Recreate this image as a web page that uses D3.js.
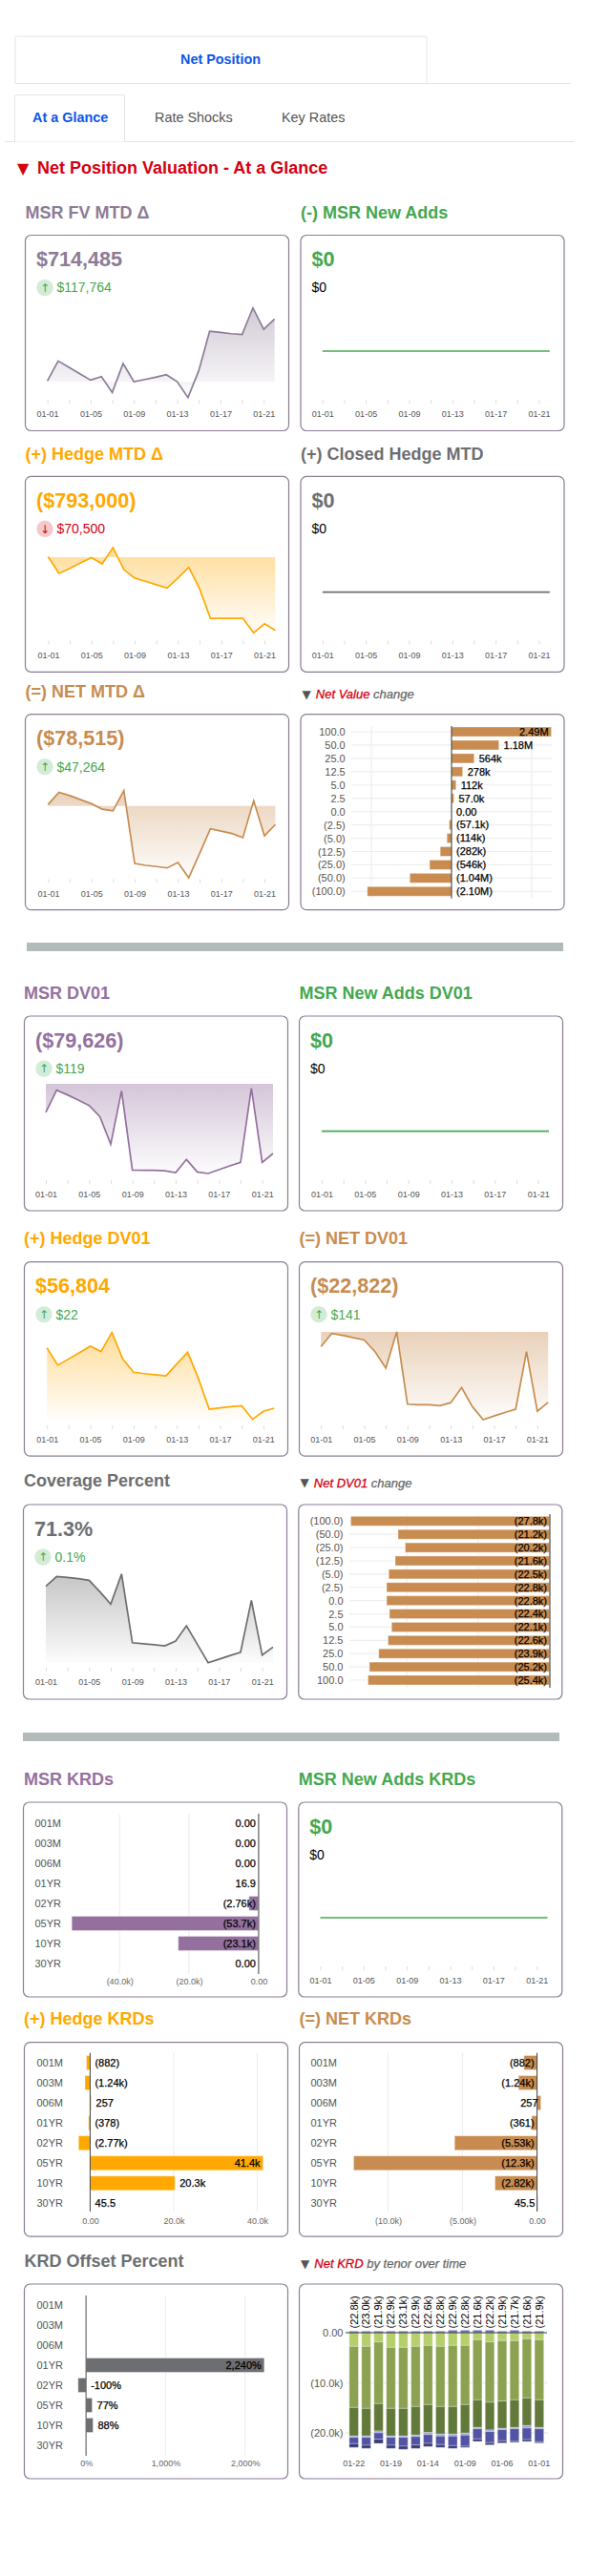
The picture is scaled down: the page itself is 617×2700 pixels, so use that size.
<!DOCTYPE html>
<html>
<head>
<meta charset="utf-8">
<script src="https://cdnjs.cloudflare.com/ajax/libs/d3/7.8.5/d3.min.js"></script>
<style>
body { margin: 0; background: #fff; }
svg { display: block; font-family: "Liberation Sans", Arial, sans-serif; }
</style>
</head>
<body>
<div id="chart"></div>
<script>
// sparkline dates, one point per day
const days = ['01-01','01-02','01-03','01-04','01-05','01-06','01-07','01-08','01-09','01-10','01-11','01-12','01-13','01-14','01-15','01-16','01-17','01-18','01-19','01-20','01-21','01-22'];

// sparkline values ($k, coverage in %)
const msrFvMtd = [7,236,163,91,18,58,-123,207,0,25,51,80,0,-181,127,576,562,547,537,841,596.7,714.5];
const hedgeMtd = [4,-177,-122,-63,-7,-74,103,-136,-228,-262,-299,-335,-228,-111,-343,-664,-664,-664,-664,-819,-722.5,-793];
const netMtd = [6,57,43,26,9,-14,-21,64,-241,-249,-254,-260,-237,-301,-200,-96,-106,-116,-133,21,-125.8,-78.5];
const msrDv01 = [-32.7,-7.3,-12.7,-18.5,-24.7,-37.5,-69.1,-8,-98.5,-98.9,-98.9,-99.3,-101.4,-86.5,-100.7,-102.5,-98.2,-93.8,-89.8,-5.1,-89.8,-79.6];
const hedgeDv01 = [87.7,78.8,82,85.2,88.5,85.8,95.5,82,75.2,74.5,73.9,73.4,79.4,85.4,72,56.3,57,57.6,58.1,51.1,55.2,56.8];
const netDv01 = [-4.8,-0.5,-1.1,-1.9,-2.6,-6.4,-11.7,0,-23.4,-23.6,-23.6,-23.9,-22.9,-18,-24.2,-28.4,-27.2,-26.1,-25,-6.4,-25.7,-22.8];
const coverage = [138.2,149,148,146.6,144.8,132.2,118.6,151.8,76.2,75.1,74,72.7,78,94.8,74.5,54.2,58,61.9,65.7,122.8,62.5,71.3];
const flatZero = [0,0,0,0,0,0,0,0,0,0,0,0,0,0,0,0,0,0,0,0,0,0];

// rate shock bars
const netValueShocks = ['100.0','50.0','25.0','12.5','5.0','2.5','0.0','(2.5)','(5.0)','(12.5)','(25.0)','(50.0)','(100.0)'];
const netValueChange = [2490,1180,564,278,112,57,0,-57.1,-114,-282,-546,-1040,-2100];
const netValueLabels = ['2.49M','1.18M','564k','278k','112k','57.0k','0.00','(57.1k)','(114k)','(282k)','(546k)','(1.04M)','(2.10M)'];
const netDv01Shocks = ['(100.0)','(50.0)','(25.0)','(12.5)','(5.0)','(2.5)','0.0','2.5','5.0','12.5','25.0','50.0','100.0'];
const netDv01Change = [-27.8,-21.2,-20.2,-21.6,-22.5,-22.8,-22.8,-22.4,-22.1,-22.6,-23.9,-25.2,-25.4];
const netDv01Labels = ['(27.8k)','(21.2k)','(20.2k)','(21.6k)','(22.5k)','(22.8k)','(22.8k)','(22.4k)','(22.1k)','(22.6k)','(23.9k)','(25.2k)','(25.4k)'];

// key rate bars
const tenors = ['001M','003M','006M','01YR','02YR','05YR','10YR','30YR'];
const msrKrd = [0,0,0,0.0169,-2.76,-53.7,-23.1,0];
const msrKrdLabels = ['0.00','0.00','0.00','16.9','(2.76k)','(53.7k)','(23.1k)','0.00'];
const hedgeKrd = [-0.882,-1.24,0.257,-0.378,-2.77,41.4,20.3,0.0455];
const hedgeKrdLabels = ['(882)','(1.24k)','257','(378)','(2.77k)','41.4k','20.3k','45.5'];
const netKrd = [-0.882,-1.24,0.257,-0.361,-5.53,-12.3,-2.82,0.0455];
const netKrdLabels = ['(882)','(1.24k)','257','(361)','(5.53k)','(12.3k)','(2.82k)','45.5'];
const krdOffset = [null,null,null,2240,-100,77,88,null];
const krdOffsetLabels = ['','','','2,240%','-100%','77%','88%',''];

// net KRD by tenor over time, newest first ($k)
const stackDates = ['01-22','01-21','01-20','01-19','01-16','01-15','01-14','01-13','01-12','01-09','01-08','01-07','01-06','01-05','01-02','01-01'];
const stackTotals = ['(22.8k)','(23.0k)','(21.9k)','(22.9k)','(23.1k)','(22.9k)','(22.6k)','(22.8k)','(22.9k)','(22.8k)','(21.6k)','(22.2k)','(21.9k)','(21.7k)','(21.6k)','(21.9k)'];
const stackPositive = [0.32,0.32,0.32,0.32,0.32,0.32,0.32,0.32,0.51,0.51,0.51,0.51,0.32,0.51,0.32,0.32];
const stack05yr = [-2.73,-2.73,-1.84,-2.92,-2.92,-2.73,-2.54,-2.73,-2.54,-2.54,-1.40,-1.84,-1.59,-1.59,-1.21,-1.40];
const stack10yr = [-12.19,-12.38,-12.32,-12.19,-12.19,-12.0,-11.81,-12.0,-12.19,-11.81,-12.0,-12.06,-12.06,-11.81,-11.81,-12.0];
const stack02yr = [-5.71,-5.52,-5.46,-5.52,-5.52,-5.71,-5.59,-5.52,-5.52,-5.71,-5.52,-5.52,-5.46,-5.52,-5.52,-5.52];
const stack01yr = [-0.25,-0.25,-0.38,-0.25,-0.25,-0.32,-0.38,-0.38,-0.38,-0.38,-0.25,-0.32,-0.25,-0.25,-0.51,-0.25];
const stack003m = [-1.27,-1.59,-1.27,-1.59,-1.78,-1.65,-1.78,-1.71,-1.90,-2.22,-2.03,-2.22,-2.22,-2.54,-2.29,-2.60];
const stack001m = [-0.76,-0.63,-0.83,-0.63,-0.63,-0.70,-0.63,-0.57,-0.57,-0.25,-0.51,-0.44,-0.44,-0.19,-0.38,-0.25];

const purple = '#94709e', purpleGrey = '#8d7b96', green = '#43a84f', orange = '#ffa800', tan = '#c88c50', grey = '#6d6e71';
const up = {fill: '#d3ecd8', color: '#43a84f', arrow: '↑'};
const down = {fill: '#f4c9cd', color: '#d40012', arrow: '↓'};

const svg = d3.select('#chart').append('svg').attr('width', 617).attr('height', 2700);
const defs = svg.append('defs');

function label(x, y, txt, size, color, weight, anchor)
{
    return svg.append('text')
        .attr('x', x)
        .attr('y', y)
        .attr('dy', '.35em')
        .attr('font-size', size)
        .attr('fill', color)
        .attr('font-weight', weight || 'normal')
        .attr('text-anchor', anchor || 'start')
        .text(txt);
}

function drawCard(c)
{
    svg.append('rect')
        .attr('x', c.x)
        .attr('y', c.y)
        .attr('width', c.w)
        .attr('height', c.h)
        .attr('rx', 6)
        .attr('fill', 'none')
        .attr('stroke', '#8b7d96')
        .attr('stroke-width', 1.2);
}

let gradientId = 0;

function sparkCard(c)
{
    drawCard(c);
    label(c.x + 11.5, c.y + 25, c.big, 21.6, c.color, 'bold');

    if (c.move) {
        svg.append('circle').attr('cx', c.x + 20.5).attr('cy', c.y + 55).attr('r', 8.7).attr('fill', c.move.fill);
        label(c.x + 20.5, c.y + 55, c.move.arrow, 12, c.move.color, 'normal', 'middle').attr('font-family', 'DejaVu Sans');
        label(c.x + 33, c.y + 55, c.sub, 14, c.move.color);
    } else {
        label(c.x + 11.5, c.y + 55, c.sub, 14, '#000');
    }

    const x = d3.scalePoint().domain(days).range([c.x0, c.x0 + 238]);
    const y = d3.scaleLinear()
        .domain([d3.min(c.values), Math.max(d3.max(c.values), 0)])
        .range([c.bot, c.top]);
    const base = y(Math.max(d3.min(c.values), 0));

    if (d3.max(c.values) !== d3.min(c.values)) {
        const id = 'fade' + (gradientId++);
        const grad = defs.append('linearGradient')
            .attr('id', id)
            .attr('gradientUnits', 'userSpaceOnUse')
            .attr('x1', 0).attr('x2', 0)
            .attr('y1', c.top).attr('y2', c.bot);
        grad.append('stop').attr('offset', 0).attr('stop-color', c.color).attr('stop-opacity', 0.4);
        grad.append('stop').attr('offset', 1).attr('stop-color', c.color).attr('stop-opacity', 0.02);

        svg.append('path')
            .datum(c.values)
            .attr('fill', `url(#${id})`)
            .attr('d', d3.area().x((d, i) => x(days[i])).y0(base).y1(d => y(d)));
    }

    svg.append('path')
        .datum(c.values)
        .attr('fill', 'none')
        .attr('stroke', c.color)
        .attr('stroke-width', 1.7)
        .attr('d', d3.line().x((d, i) => x(days[i])).y(d => y(d)));

    const axis = svg.append('g')
        .attr('transform', `translate(0, ${c.axisY})`)
        .call(d3.axisBottom(x)
            .tickValues(days.filter((d, i) => i % 2 === 0))
            .tickSize(4)
            .tickPadding(8)
            .tickFormat(d => days.indexOf(d) % 4 === 0 ? d : ''));
    axis.select('.domain').remove();
    axis.selectAll('line').attr('stroke', '#ddd');
    axis.selectAll('text').attr('font-size', 9).attr('font-family', 'Liberation Sans').attr('fill', '#555');
}

function barCard(c)
{
    drawCard(c);

    const x = d3.scaleLinear().domain(c.domain).range(c.range);
    const y = d3.scalePoint().domain(c.cats).range([c.first, c.last]);

    svg.selectAll(null)
        .data(c.gridVals)
        .join('line')
        .attr('x1', d => x(d))
        .attr('x2', d => x(d))
        .attr('y1', c.gridTop)
        .attr('y2', c.gridBot)
        .attr('stroke', '#eee')
        .attr('stroke-width', 1.2);

    if (c.rowLines) {
        svg.selectAll(null)
            .data(c.cats)
            .join('line')
            .attr('x1', c.range[0])
            .attr('x2', c.rowEnd)
            .attr('y1', d => y(d))
            .attr('y2', d => y(d))
            .attr('stroke', '#eee')
            .attr('stroke-width', 1.2);
    }

    const rows = c.values.map((v, i) => ({cat: c.cats[i], v: v, txt: c.labels[i]})).filter(d => d.v !== null);

    svg.selectAll(null)
        .data(rows)
        .join('rect')
        .attr('x', d => Math.min(x(d.v), x(0)))
        .attr('y', d => y(d.cat) - c.barH / 2)
        .attr('width', d => Math.abs(x(d.v) - x(0)))
        .attr('height', c.barH)
        .attr('fill', c.color)
        .attr('stroke', '#fff')
        .attr('stroke-opacity', 0.35)
        .attr('stroke-width', 1);

    svg.append('line')
        .attr('x1', x(0))
        .attr('x2', x(0))
        .attr('y1', c.gridTop)
        .attr('y2', c.gridBot)
        .attr('stroke', c.zeroColor)
        .attr('stroke-width', c.zeroWidth);

    // label sits past the bar, or inside it when it would run off the plot
    rows.forEach(d => {
        const end = Math.max(x(d.v), x(0));
        const t = label(end + 5, y(d.cat), d.txt, 11, '#000')
            .attr('stroke', '#000')
            .attr('stroke-width', 0.25);
        if (end + 5 + t.node().getComputedTextLength() > c.range[1]) {
            t.attr('x', end - 3).attr('text-anchor', 'end');
        }
    });

    const left = svg.append('g')
        .attr('transform', `translate(${c.catX}, 0)`)
        .call(d3.axisLeft(y).tickSize(0).tickPadding(0));
    left.select('.domain').remove();
    left.selectAll('text').attr('font-size', 11).attr('font-family', 'Liberation Sans').attr('fill', '#555');

    if (c.tickTexts) {
        const bottom = svg.append('g')
            .attr('transform', `translate(0, ${c.tickY})`)
            .call(d3.axisBottom(x).tickValues(c.gridVals).tickSize(0).tickPadding(0).tickFormat((d, i) => c.tickTexts[i]));
        bottom.select('.domain').remove();
        bottom.selectAll('text').attr('font-size', 9).attr('font-family', 'Liberation Sans').attr('fill', '#666');
    }
}

function stackCard(c)
{
    drawCard(c);

    const seriesNames = ['pos', '05yr', '10yr', '02yr', '01yr', '003m', '001m'];
    const seriesValues = [stackPositive, stack05yr, stack10yr, stack02yr, stack01yr, stack003m, stack001m];
    const seriesColors = ['#6b6ecf', '#b5cf6b', '#8ca252', '#637939', '#9c9ede', '#5254a3', '#393b79'];
    const table = stackDates.map((d, i) => {
        const row = {date: d};
        seriesNames.forEach((s, j) => { row[s] = seriesValues[j][i]; });
        return row;
    });
    const stacked = d3.stack().keys(seriesNames).offset(d3.stackOffsetDiverging)(table);

    const x = d3.scaleBand().domain(stackDates).range([362.5, 573]).padding(0.26);
    const y = d3.scaleLinear().domain([0, -20]).range([2445, 2550]);

    svg.selectAll(null)
        .data([-10, -20])
        .join('line')
        .attr('x1', 362)
        .attr('x2', 574)
        .attr('y1', d => y(d))
        .attr('y2', d => y(d))
        .attr('stroke', '#eee')
        .attr('stroke-width', 1.5);

    stacked.forEach((s, j) => {
        svg.selectAll(null)
            .data(s)
            .join('rect')
            .attr('x', d => x(d.data.date))
            .attr('y', d => Math.min(y(d[0]), y(d[1])))
            .attr('width', x.bandwidth())
            .attr('height', d => Math.abs(y(d[0]) - y(d[1])))
            .attr('fill', seriesColors[j])
            .attr('stroke', '#fff')
            .attr('stroke-opacity', 0.3)
            .attr('stroke-width', 1);
    });

    svg.append('line')
        .attr('x1', 362)
        .attr('x2', 573)
        .attr('y1', y(0))
        .attr('y2', y(0))
        .attr('stroke', '#333')
        .attr('stroke-width', 1);

    const left = svg.append('g')
        .attr('transform', 'translate(359.5, 0)')
        .call(d3.axisLeft(y).tickValues([0, -10, -20]).tickSize(0).tickPadding(0).tickFormat((d, i) => ['0.00', '(10.0k)', '(20.0k)'][i]));
    left.select('.domain').remove();
    left.selectAll('text').attr('font-size', 11).attr('font-family', 'Liberation Sans').attr('fill', '#555');

    const bottom = svg.append('g')
        .attr('transform', 'translate(0, 2578.5)')
        .call(d3.axisBottom(x).tickValues(stackDates.filter((d, i) => i % 3 === 0)).tickSize(0).tickPadding(0));
    bottom.select('.domain').remove();
    bottom.selectAll('text').attr('font-size', 9).attr('font-family', 'Liberation Sans').attr('fill', '#555');

    svg.selectAll(null)
        .data(stackTotals)
        .join('text')
        .attr('transform', (d, i) => `translate(${x(stackDates[i]) + x.bandwidth() / 2}, 2440.5) rotate(-90)`)
        .attr('dy', '.35em')
        .attr('font-size', 11)
        .attr('fill', '#000')
        .text(d => d);
}

function tealDivider(x, y, w)
{
    svg.append('rect').attr('x', x).attr('y', y).attr('width', w).attr('height', 9).attr('fill', '#b2bbb9');
}

function smallHead(x, y, red, rest)
{
    label(x, y, '▼', 12, '#555').attr('font-family', 'DejaVu Sans');
    const t = label(x + 14.3, y, '', 13, '#d40012').attr('font-style', 'italic');
    t.append('tspan').attr('fill', '#d40012').attr('stroke', '#d40012').attr('stroke-width', 0.3).text(red);
    t.append('tspan').attr('fill', '#666').attr('stroke', '#666').attr('stroke-width', 0.25).text(' ' + rest);
}

// tabs along the top
const tabPath = 'M16 88 V40 Q16 38 18 38 H445 Q447 38 447 40 V88';
svg.append('path').attr('d', tabPath).attr('fill', 'none').attr('stroke', '#e2e4e8').attr('stroke-width', 1);
svg.append('line').attr('x1', 16).attr('x2', 598).attr('y1', 87.5).attr('y2', 87.5).attr('stroke', '#e2e4e8');
label(231, 62, 'Net Position', 14.4, '#0d56e8', 'bold', 'middle');

svg.append('line').attr('x1', 5).attr('x2', 602).attr('y1', 148.5).attr('y2', 148.5).attr('stroke', '#e2e4e8');
svg.append('path').attr('d', 'M15.5 148.5 V101 Q15.5 99.5 17 99.5 H129 Q130.5 99.5 130.5 101 V148.5').attr('fill', '#fff').attr('stroke', '#e2e4e8');
label(34, 123, 'At a Glance', 14.4, '#0d56e8', 'bold');
label(162, 123, 'Rate Shocks', 14.4, '#555');
label(295, 123, 'Key Rates', 14.4, '#555');

label(18, 176, '▼', 16, '#d40012').attr('font-family', 'DejaVu Sans');
label(39, 176, 'Net Position Valuation - At a Glance', 18, '#d40012', 'bold');

// section one: valuation
label(26.5, 223, 'MSR FV MTD Δ', 18, purpleGrey, 'bold');
label(315, 223, '(-) MSR New Adds', 18, green, 'bold');
sparkCard({x: 26.5, y: 246.5, w: 276, h: 205, big: '$714,485', sub: '$117,764', move: up, color: purpleGrey, values: msrFvMtd, top: 322.7, bot: 416.7, x0: 49.6, axisY: 419});
sparkCard({x: 315, y: 246.5, w: 276, h: 205, big: '$0', sub: '$0', color: green, values: flatZero, top: 322.7, bot: 413.3, x0: 337.8, axisY: 419});

label(26.5, 475.7, '(+) Hedge MTD Δ', 18, orange, 'bold');
label(315, 475.7, '(+) Closed Hedge MTD', 18, grey, 'bold');
sparkCard({x: 26.5, y: 499.3, w: 276, h: 205, big: '($793,000)', sub: '$70,500', move: down, color: orange, values: hedgeMtd, top: 573.9, bot: 663.2, x0: 50.4, axisY: 671.4});
sparkCard({x: 315, y: 499.3, w: 276, h: 205, big: '$0', sub: '$0', color: grey, values: flatZero, top: 573.9, bot: 667.5, x0: 337.8, axisY: 671.4});

label(26.5, 724.6, '(=) NET MTD Δ', 18, tan, 'bold');
smallHead(316.5, 727.5, 'Net Value', 'change');
sparkCard({x: 26.5, y: 748.6, w: 276, h: 205, big: '($78,515)', sub: '$47,264', move: up, color: tan, values: netMtd, top: 828.6, bot: 920, x0: 50.4, axisY: 921.4});
barCard({x: 315, y: 748.6, w: 276, h: 205, cats: netValueShocks, values: netValueChange, labels: netValueLabels, color: tan,
    domain: [-2500, 2500], range: [368, 578], first: 767, last: 934.3, barH: 10, gridVals: [-2000, 2000], gridTop: 761, gridBot: 941.7,
    rowLines: true, rowEnd: 578, catX: 361.7, zeroColor: '#333', zeroWidth: 1});
tealDivider(28, 988, 562);

// section two: DV01
label(25, 1040.7, 'MSR DV01', 18, purple, 'bold');
label(313.5, 1040.7, 'MSR New Adds DV01', 18, green, 'bold');
sparkCard({x: 25.5, y: 1065, w: 276, h: 204, big: '($79,626)', sub: '$119', move: up, color: purple, values: msrDv01, top: 1136, bot: 1230, x0: 48, axisY: 1237});
sparkCard({x: 313.5, y: 1065, w: 276, h: 204, big: '$0', sub: '$0', color: green, values: flatZero, top: 1140, bot: 1231.4, x0: 337, axisY: 1237});

label(25, 1297.7, '(+) Hedge DV01', 18, orange, 'bold');
label(313.5, 1297.7, '(=) NET DV01', 18, tan, 'bold');
sparkCard({x: 25.5, y: 1322.7, w: 276, h: 203.5, big: '$56,804', sub: '$22', move: up, color: orange, values: hedgeDv01, top: 1396.7, bot: 1487.7, x0: 49.2, axisY: 1494});
sparkCard({x: 313.5, y: 1322.7, w: 276, h: 203.5, big: '($22,822)', sub: '$141', move: up, color: tan, values: netDv01, top: 1396, bot: 1488, x0: 336.2, axisY: 1494});

label(25, 1551.7, 'Coverage Percent', 18, grey, 'bold');
smallHead(314.5, 1554, 'Net DV01', 'change');
sparkCard({x: 24.5, y: 1577, w: 276, h: 204, big: '71.3%', sub: '0.1%', move: up, color: grey, values: coverage, top: 1649.7, bot: 1742.7, x0: 48, axisY: 1748});
barCard({x: 312.8, y: 1577, w: 276, h: 204, cats: netDv01Shocks, values: netDv01Change, labels: netDv01Labels, color: tan,
    domain: [-28, 0], range: [366, 576], first: 1594.3, last: 1761, barH: 10, gridVals: [-20, -10], gridTop: 1587, gridBot: 1769,
    rowLines: true, rowEnd: 576, catX: 359.5, zeroColor: '#777', zeroWidth: 1.6});
tealDivider(24, 1816, 562);

// section three: KRDs
label(25, 1865, 'MSR KRDs', 18, purple, 'bold');
label(312.8, 1865, 'MSR New Adds KRDs', 18, green, 'bold');
barCard({x: 24.5, y: 1889, w: 276, h: 204, cats: tenors, values: msrKrd, labels: msrKrdLabels, color: purple,
    domain: [-53.7, 0], range: [75.2, 270.9], first: 1911, last: 2058, barH: 15, gridVals: [-40, -20, 0], gridTop: 1901, gridBot: 2069,
    catX: 64, zeroColor: '#777', zeroWidth: 1.4, tickTexts: ['(40.0k)', '(20.0k)', '0.00'], tickY: 2073.5});
sparkCard({x: 312.8, y: 1889, w: 276, h: 204, big: '$0', sub: '$0', color: green, values: flatZero, top: 1964, bot: 2056, x0: 335.5, axisY: 2061});

label(25, 2116, '(+) Hedge KRDs', 18, orange, 'bold');
label(313.5, 2116, '(=) NET KRDs', 18, tan, 'bold');
barCard({x: 25.5, y: 2140.7, w: 276, h: 203.5, cats: tenors, values: hedgeKrd, labels: hedgeKrdLabels, color: orange,
    domain: [-2.77, 41.4], range: [82.3, 275.6], first: 2162, last: 2309.3, barH: 15, gridVals: [0, 20, 40], gridTop: 2151.7, gridBot: 2318,
    catX: 66, zeroColor: '#444', zeroWidth: 1, tickTexts: ['0.00', '20.0k', '40.0k'], tickY: 2324.5});
barCard({x: 313.5, y: 2140.7, w: 276, h: 203.5, cats: tenors, values: netKrd, labels: netKrdLabels, color: tan,
    domain: [-12.3, 0.257], range: [370.5, 566.6], first: 2162, last: 2309.3, barH: 15, gridVals: [-10, -5, 0], gridTop: 2151.7, gridBot: 2318,
    catX: 353, zeroColor: '#444', zeroWidth: 1, tickTexts: ['(10.0k)', '(5.00k)', '0.00'], tickY: 2324.5});

label(25.5, 2370, 'KRD Offset Percent', 18, grey, 'bold');
smallHead(315, 2372.5, 'Net KRD', 'by tenor over time');
barCard({x: 25.5, y: 2394, w: 276, h: 204, cats: tenors, values: krdOffset, labels: krdOffsetLabels, color: grey,
    domain: [-100, 2240], range: [81.8, 276.8], first: 2416, last: 2563, barH: 15, gridVals: [0, 1000, 2000], gridTop: 2406, gridBot: 2574,
    catX: 66, zeroColor: '#555', zeroWidth: 1, tickTexts: ['0%', '1,000%', '2,000%'], tickY: 2578.5});
stackCard({x: 313.5, y: 2394, w: 276, h: 204});
</script>
</body>
</html>
